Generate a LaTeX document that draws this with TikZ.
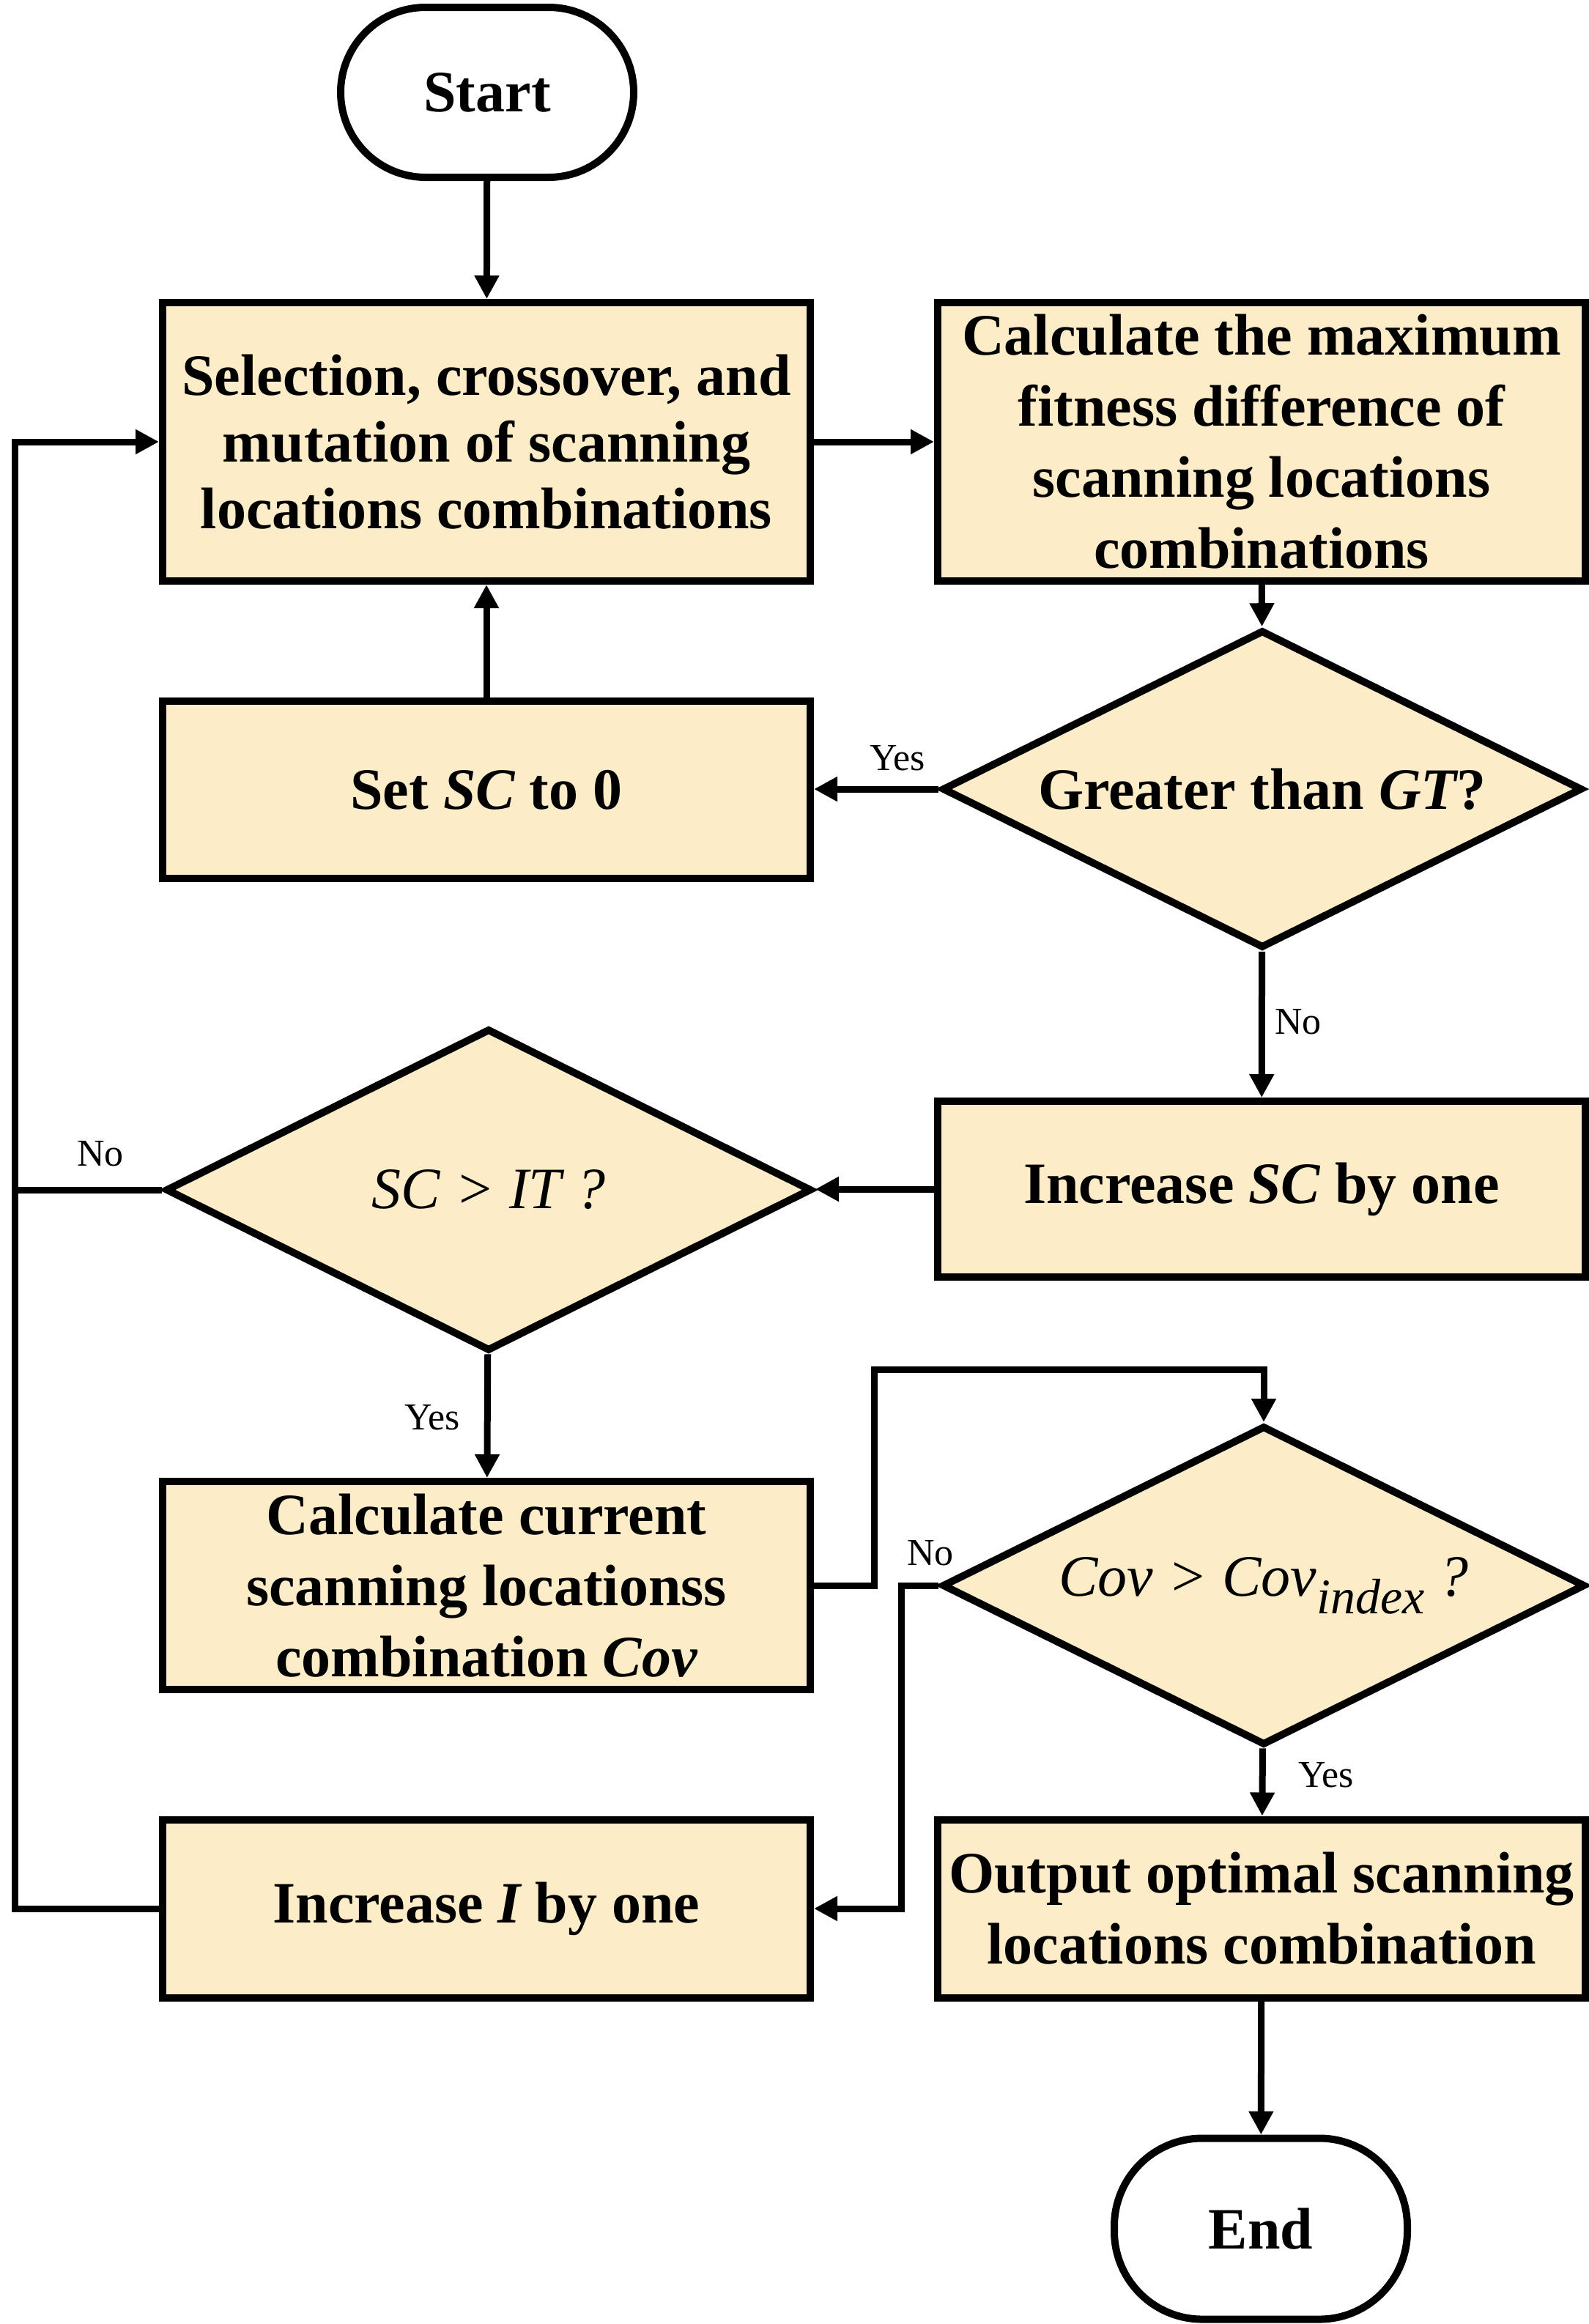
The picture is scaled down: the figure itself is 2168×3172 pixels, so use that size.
\documentclass[tikz,border=0pt]{standalone}
\usepackage{fontspec}
\setmainfont{Liberation Serif}
\usetikzlibrary{shapes.geometric,arrows.meta}
\definecolor{boxfill}{RGB}{252,236,200}
\begin{document}
\begin{tikzpicture}[x=0.25pt,y=-0.25pt,
  every node/.style={font=\fontsize{20}{24.25}\selectfont\bfseries},
  proc/.style={draw,line width=2.5pt,fill=boxfill,minimum width=221pt,align=center,inner sep=0pt},
  dec/.style={diamond,draw,line width=2.5pt,fill=boxfill,inner sep=0pt,aspect=2},
  term/.style={draw,line width=2.5pt,fill=white,rounded corners=29pt,minimum width=100pt,minimum height=58pt},
  conn/.style={line width=2.25pt,-{Triangle[length=8pt,width=8pt]}},
  plain/.style={line width=2.25pt},
  lbl/.style={font=\fontsize{13}{15}\selectfont\mdseries}
]
\useasboundingbox (0,0) rectangle (2168,3172);

\node[term] (start) at (665,126) {Start};
\node[proc,minimum height=95pt,font=\fontsize{20}{22.75}\selectfont\bfseries] (sel) at (664,603) {Selection, crossover, and\\mutation of scanning\\locations combinations};
\node[proc,minimum height=95pt] (calc) at (1722,603) {Calculate the maximum\\fitness difference of\\scanning locations\\combinations};
\node[proc,minimum height=60.5pt] (setsc) at (664,1078) {Set {\itshape SC} to 0};
\node[dec,minimum width=218.5pt,minimum height=108.5pt] (gt) at (1723,1077) {\makebox[0pt]{Greater than {\itshape GT}?}};
\node[proc,minimum height=60pt] (incsc) at (1722,1623) {\raisebox{-2pt}{Increase {\itshape SC} by one}};
\node[dec,minimum width=220.5pt,minimum height=110pt,font=\fontsize{20}{24}\selectfont\mdseries\itshape] (scit) at (667,1624) {\makebox[0pt]{SC > IT ?}};
\node[proc,minimum height=71pt] (cur) at (664,2164) {Calculate current\\scanning locationss\\combination {\itshape Cov}};
\node[dec,minimum width=219.5pt,minimum height=109pt,font=\fontsize{20}{24}\selectfont\mdseries\itshape] (cov) at (1725,2164) {\makebox[0pt]{Cov > Cov\raisebox{-0.3em}{\fontsize{17}{17}\selectfont index} ?}};
\node[proc,minimum height=60.75pt] (inci) at (664,2605) {\raisebox{-2pt}{Increase {\itshape I} by one}};
\node[proc,minimum height=60.75pt] (out) at (1722,2605) {Output optimal scanning\\locations combination};
\node[term,minimum height=61.75pt,rounded corners=30pt] (endn) at (1721,3042) {End};

\coordinate (lx) at (20,0);
\coordinate (rx) at (1193,1869);
\coordinate (nx) at (1230,0);

\draw[conn] (start) -- (sel);
\draw[conn] (sel) -- (calc);
\draw[conn] (calc) -- (gt);
\draw[conn] (gt.west) -- (gt.west -| setsc.east);
\draw[conn] (setsc) -- (sel);
\draw[conn] (gt) -- (incsc);
\draw[conn] (incsc.west) -- (incsc.west -| scit.east);
\draw[plain] (scit.west) -- (scit.west -| lx);
\draw[conn] (inci.west) -- (inci.west -| lx) |- (sel.west);
\draw[conn] (scit) -- (cur);
\draw[conn] (cur.east) -- (cur.east -| rx) -- (rx) -| (cov.north);
\draw[conn] (cov.west) -- (cov.west -| nx) |- (inci.east);
\draw[conn] (cov) -- (out);
\draw[conn] (out) -- (endn);

\node[lbl] (l1) at (1225,1035) {Yes};
\node[lbl] (l2) at (1772,1395) {No};
\node[lbl] (l3) at (137,1575) {No};
\node[lbl] (l4) at (590,1935) {Yes};
\node[lbl] (l5) at (1270,2120) {No};
\node[lbl] (l6) at (1810,2423) {Yes};
\end{tikzpicture}
\end{document}
